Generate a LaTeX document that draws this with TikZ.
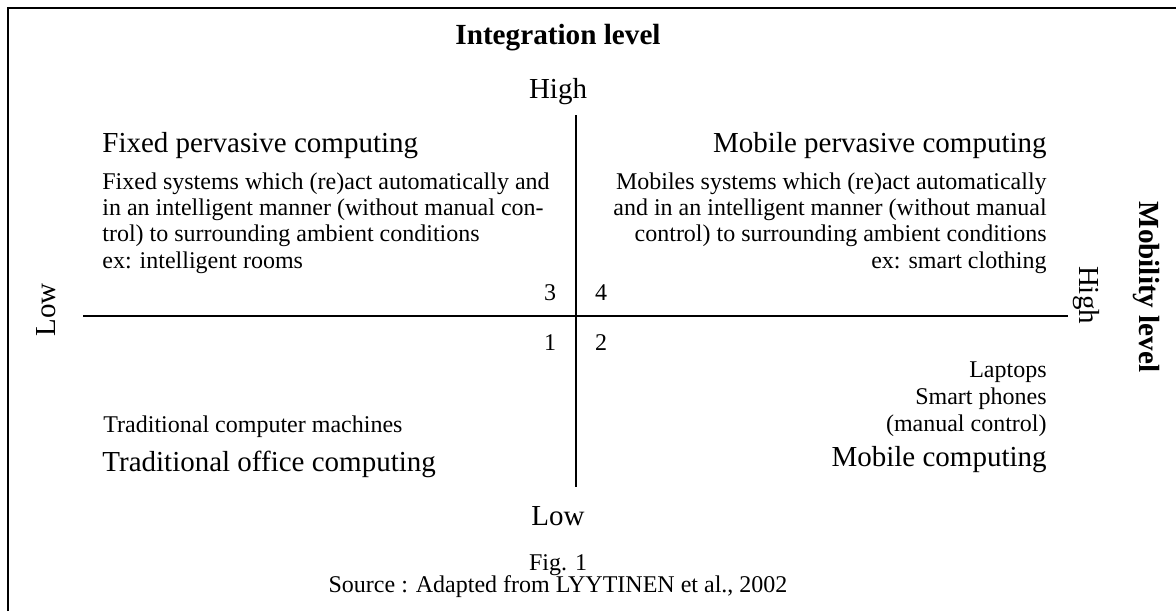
\documentclass[tikz,border=0pt]{standalone}
\usepackage{fontspec}
\setmainfont{Liberation Serif}
\usetikzlibrary{positioning}

\begin{document}
\begin{tikzpicture}[x=.5pt,y=-.5pt,
  big/.style={inner sep=0pt,font=\fontsize{14.5}{17}\selectfont},
  small/.style={inner sep=0pt,font=\fontsize{12}{14}\selectfont},
  heading/.style={inner sep=0pt,font=\fontsize{14.6}{17}\selectfont\bfseries},
  axis/.style={line width=.85pt}]
\useasboundingbox (0,0) rectangle (1176,611);
\draw[axis] (8,611) -- (8,8) -- (1176,8);

% the two axes
\coordinate (top) at (576,115);
\coordinate (bot) at (576,487);
\coordinate (lft) at (83,316);
\coordinate (rgt) at (1068,316);
\draw[axis] (top) -- (bot);
\draw[axis] (lft) -- (rgt);

\node[heading,anchor=base] (title) at (558,44) {Integration level};
\node[big,anchor=base] (hi) at (558,98) {High};
\node[big,anchor=base] (lo) at (558,525) {Low};
\node[big,anchor=base,rotate=90] (lowx) at (55,310) {Low};
\node[big,anchor=base,rotate=-90] (highx) at (1079,295) {High};
\node[heading,anchor=base,rotate=-90] (mob) at (1139,287) {Mobility level};

% quadrant numbers
\foreach \n/\x/\y in {3/550/300,4/601/300,1/550/350,2/601/350}
  \node[small,anchor=base] (n\n) at (\x,\y) {\n};

% top quadrants
\node[big,anchor=base west] (fpc) at (102,152) {Fixed pervasive computing};
\node[big,anchor=base east] (mpc) at (1047,152) {Mobile pervasive computing};
\foreach \y/\t [count=\k] in {189/Fixed systems which (re)act automatically and,
    215/in an intelligent manner (without manual con-,
    241/trol) to surrounding ambient conditions,
    268/ex: intelligent rooms}
  \node[small,anchor=base west] (fix\k) at (102,\y) {\t};
\foreach \y/\t [count=\k] in {189/Mobiles systems which (re)act automatically,
    215/and in an intelligent manner (without manual,
    241/control) to surrounding ambient conditions,
    268/ex: smart clothing}
  \node[small,anchor=base east] (mobi\k) at (1047,\y) {\t};

% bottom quadrants
\node[small,anchor=base west] (tcm) at (103,432) {Traditional computer machines};
\node[big,anchor=base west] (toc) at (102,471) {Traditional office computing};
\foreach \y/\t [count=\k] in {377/Laptops,404/Smart phones,431/(manual control)}
  \node[small,anchor=base east] (dev\k) at (1047,\y) {\t};
\node[big,anchor=base east] (mc) at (1047,466) {Mobile computing};

% caption
\node[small,anchor=base] (fig) at (558,570) {Fig. 1};
\node[small,anchor=base] (src) at (558,592) {Source : Adapted from LYYTINEN et al., 2002};
\end{tikzpicture}
\end{document}
